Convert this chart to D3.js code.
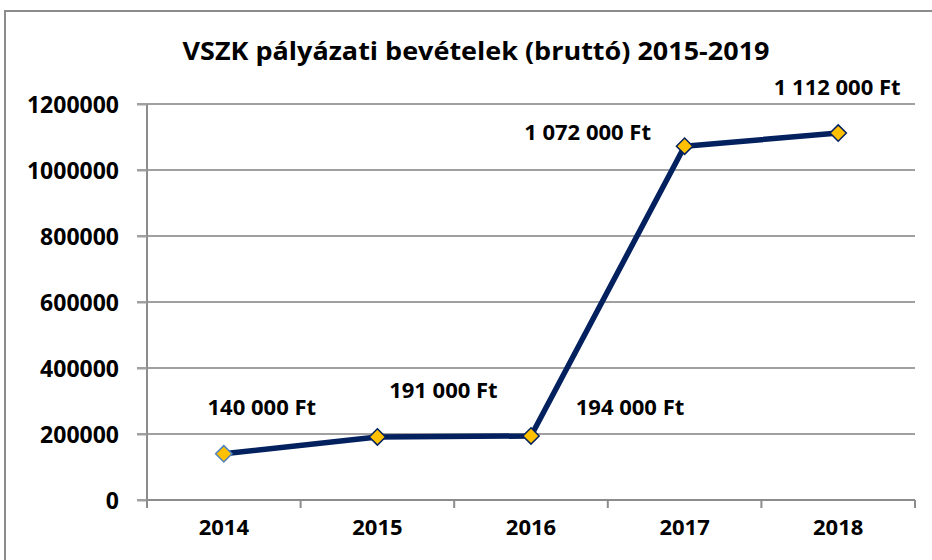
<!DOCTYPE html>
<html>
<head>
<meta charset="utf-8" />
<title>VSZK</title>
<script src="https://cdn.jsdelivr.net/npm/d3@7"></script>
<style>
  body { margin: 0; background: #fff; }
  text { font-family: "Open Sans", "Liberation Sans", sans-serif; font-weight: bold; fill: #000; }
</style>
</head>
<body>
<svg width="932" height="560"></svg>
<script>
  var years = ["2014", "2015", "2016", "2017", "2018"];
  var values = [140000, 191000, 194000, 1072000, 1112000];
  var labels = ["140 000 Ft", "191 000 Ft", "194 000 Ft", "1 072 000 Ft", "1 112 000 Ft"];
  var yTicks = [0, 200000, 400000, 600000, 800000, 1000000, 1200000];
  // label offsets (dx, dy) relative to each point
  var labelOff = [[38, -39], [66, -39], [99, -21], [-97, -6], [-1, -38]];

  var svg = d3.select("svg");
  var marge = {top: 104, left: 147, right: 17, bottom: 60};
  var width = 932, height = 560;

  // outer chart border
  svg.append("rect")
     .attr("x", 5).attr("y", 11)
     .attr("width", 940).attr("height", 560)
     .attr("fill", "none").attr("stroke", "#8c8c8c").attr("stroke-width", 2);

  svg.append("text")
     .attr("x", 476).attr("y", 60)
     .attr("text-anchor", "middle")
     .style("font-size", "25px")
     .attr("textLength", 587)
     .attr("lengthAdjust", "spacingAndGlyphs")
     .text("VSZK pályázati bevételek (bruttó) 2015-2019");

  var x = d3.scaleBand().domain(years).range([marge.left, width - marge.right]);
  var y = d3.scaleLinear().domain([0, 1200000]).range([500, marge.top]);

  // gridlines
  svg.append("g").selectAll("line").data(yTicks).enter().append("line")
     .attr("x1", marge.left - 10).attr("x2", width - marge.right)
     .attr("y1", d => y(d)).attr("y2", d => y(d))
     .attr("stroke", "#a0a0a0").attr("stroke-width", 2);

  // y axis
  var yAxis = svg.append("g")
     .attr("transform", "translate(" + marge.left + ",0)")
     .call(d3.axisLeft(y).tickValues(yTicks).tickFormat(d3.format("d")).tickSize(10).tickPadding(18));
  yAxis.select(".domain").attr("stroke", "#8c8c8c").attr("stroke-width", 2)
       .attr("d", "M0," + y(0) + "V" + y(1200000));
  yAxis.selectAll(".tick line").attr("stroke", "#a0a0a0").attr("stroke-width", 2);
  yAxis.selectAll("text").style("font-size", "23px").style("font-family", "\"Open Sans\", sans-serif")
       .attr("fill", "#000").attr("dy", "0.36em");

  // x axis
  var xAxis = svg.append("g")
     .attr("transform", "translate(0," + y(0) + ")")
     .call(d3.axisBottom(x).tickSize(0).tickPadding(19));
  xAxis.select(".domain").attr("stroke", "#8c8c8c").attr("stroke-width", 2)
       .attr("d", "M" + marge.left + ",0H" + (width - marge.right));
  xAxis.selectAll("text").style("font-size", "22px").style("font-family", "\"Open Sans\", sans-serif")
       .attr("fill", "#000");
  var bounds = years.map(d => x(d)).concat([width - marge.right]);
  xAxis.selectAll(".sep").data(bounds).enter().append("line")
       .attr("x1", d => d).attr("x2", d => d).attr("y1", 0).attr("y2", 8)
       .attr("stroke", "#8c8c8c").attr("stroke-width", 2);

  var cx = d => x(d) + x.bandwidth() / 2;
  var line = d3.line().x((d, i) => cx(years[i])).y(d => y(d));

  svg.append("path")
     .datum(values)
     .attr("d", line)
     .attr("fill", "none")
     .attr("stroke", "#04215f")
     .attr("stroke-width", 5.5)
     .attr("stroke-linejoin", "round");

  var sym = d3.symbol().type(d3.symbolDiamond2).size(170);
  svg.append("g").selectAll("path").data(values).enter().append("path")
     .attr("d", sym)
     .attr("transform", (d, i) => "translate(" + cx(years[i]) + "," + y(d) + ")")
     .attr("fill", "#ffc000")
     .attr("stroke", (d, i) => i === 0 ? "#4f81bd" : "#04215f")
     .attr("stroke-width", 1.5);

  svg.append("g").selectAll("text").data(values).enter().append("text")
     .attr("x", (d, i) => cx(years[i]) + labelOff[i][0])
     .attr("y", (d, i) => y(d) + labelOff[i][1])
     .attr("text-anchor", "middle")
     .style("font-size", "22px")
     .text((d, i) => labels[i]);
</script>
</body>
</html>
